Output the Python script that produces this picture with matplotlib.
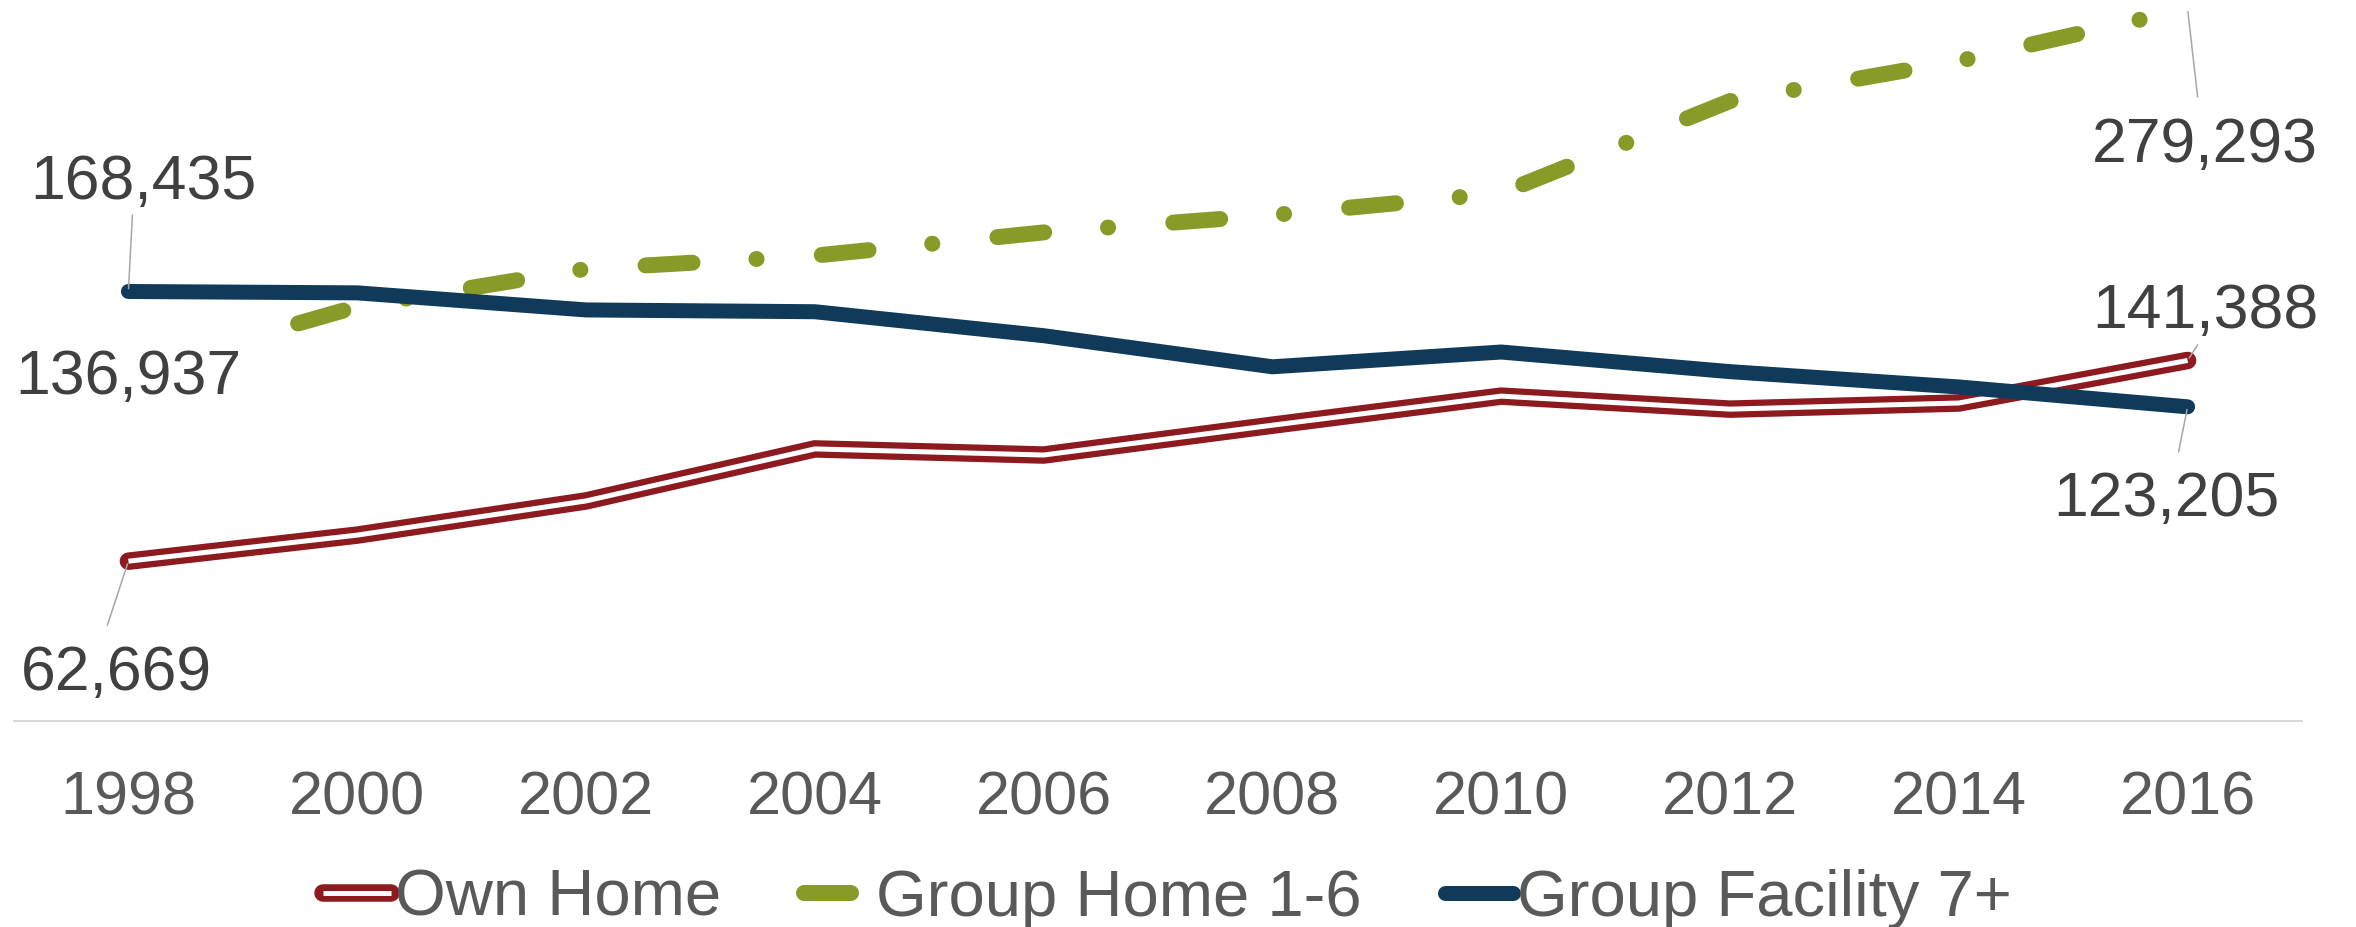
import matplotlib
matplotlib.use('Agg')
import matplotlib.pyplot as plt
from matplotlib.legend_handler import HandlerTuple

plt.rcParams['font.family'] = ['Liberation Sans', 'DejaVu Sans']
plt.rcParams['lines.scale_dashes'] = False

# ---------------- data ----------------
years = [1998, 2000, 2002, 2004, 2006, 2008, 2010, 2012, 2014, 2016]
tick_labels = [str(y) for y in years]
own_home = [62669, 72900, 86300, 106700, 104300, 116000, 127400, 122300, 124700, 141388]
group_home = [136937, 162500, 177300, 182500, 191600, 198400, 207000, 243100, 258800, 279293]
group_facility = [168435, 167900, 161200, 160500, 151100, 138900, 144700, 137000, 131000, 123205]
series_names = ['Own Home', 'Group Home 1-6', 'Group Facility 7+']

RED = '#8C1A1F'
GREEN = '#889A28'
BLUE = '#0F3A5A'
LABEL_C = '#404040'
TICK_C = '#595959'
LEADER_C = '#A6A6A6'

DPI = 100
W, H = 2356, 927
PX = 72 / DPI  # points per pixel

fig = plt.figure(figsize=(W / DPI, H / DPI), dpi=DPI)
ax = fig.add_axes([14 / W, 206 / H, 2288 / W, 721 / H])
ax.set_xlim(1997, 2017)
ax.set_ylim(0, 282745)

red_outer, = ax.plot(years, own_home, color=RED, lw=17.5 * PX,
                     solid_capstyle='round', solid_joinstyle='miter', zorder=2)
red_inner, = ax.plot(years, own_home, color='white', lw=5.0 * PX,
                     solid_capstyle='butt', solid_joinstyle='miter', zorder=2.1)
green, = ax.plot(years, group_home, color=GREEN, lw=16 * PX,
                 linestyle=(0, (47 * PX, 64 * PX, 0.1, 65.5 * PX - 0.1)),
                 dash_capstyle='round', solid_joinstyle='round', zorder=3)
blue, = ax.plot(years, group_facility, color=BLUE, lw=15 * PX,
                solid_capstyle='round', solid_joinstyle='round', zorder=4)

# axes styling
for s in ['top', 'left', 'right']:
    ax.spines[s].set_visible(False)
ax.spines['bottom'].set_color('#D9D9D9')
ax.spines['bottom'].set_linewidth(2 * PX)
ax.set_yticks([])
ax.set_xticks(years, tick_labels)
ax.tick_params(axis='x', length=0, pad=35.7, labelsize=44, labelcolor=TICK_C)


def label(x, y, text, dx, dy_center, leader=None, box=False):
    kw = {}
    if box:
        kw['bbox'] = dict(boxstyle='square,pad=0.3', fc='white', ec='none')
    ax.annotate(text, xy=(x, y), xytext=(dx, dy_center - 22.4),
                textcoords='offset pixels', ha='center', va='baseline',
                fontsize=45, color=LABEL_C, zorder=6, annotation_clip=False, **kw)
    if leader is not None:
        ax.annotate('', xy=(x, y), xytext=leader, textcoords='offset pixels',
                    arrowprops=dict(arrowstyle='-', color=LEADER_C, lw=1.1,
                                    shrinkA=0, shrinkB=2),
                    annotation_clip=False, zorder=5)


label(years[0], group_facility[0], f'{group_facility[0]:,}', 15, 114.5, leader=(4, 76.5))
label(years[0], group_home[0], f'{group_home[0]:,}', 0, 0, box=True)
label(years[0], own_home[0], f'{own_home[0]:,}', -12, -106, leader=(-21, -64))
label(years[-1], group_home[-1], f'{group_home[-1]:,}', 17, -130.5, leader=(10, -88))
label(years[-1], own_home[-1], f'{own_home[-1]:,}', 18, 54.5, leader=(10, 15.5))
label(years[-1], group_facility[-1], f'{group_facility[-1]:,}', -21, -87, leader=(-9, -45))

leg = fig.legend([(red_outer, red_inner), green, blue], series_names,
                 loc='center', bbox_to_anchor=(0.4955, 0.0305), ncol=3,
                 frameon=False, fontsize=47, handlelength=1.04,
                 handletextpad=0.06, columnspacing=1.28, labelcolor=TICK_C,
                 handler_map={tuple: HandlerTuple(ndivide=1)})

fig.savefig('out.png', dpi=DPI)
